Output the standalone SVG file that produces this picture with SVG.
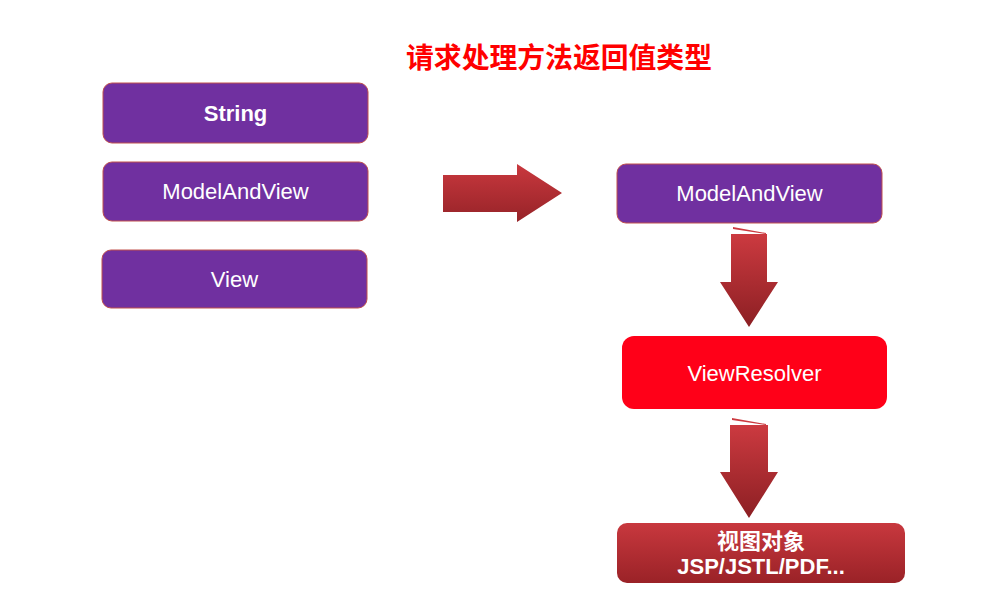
<svg xmlns="http://www.w3.org/2000/svg" width="1003" height="590" viewBox="0 0 1003 590">
  <defs>
    <linearGradient id="arrowV" x1="0" y1="0" x2="0" y2="1">
      <stop offset="0" stop-color="#cc3a40"/>
      <stop offset="1" stop-color="#8c1f23"/>
    </linearGradient>
    <linearGradient id="arrowH" x1="0" y1="0" x2="0" y2="1">
      <stop offset="0" stop-color="#c9383e"/>
      <stop offset="1" stop-color="#962328"/>
    </linearGradient>
    <linearGradient id="boxRed" x1="0" y1="0" x2="0" y2="1">
      <stop offset="0" stop-color="#c8383e"/>
      <stop offset="1" stop-color="#9a2227"/>
    </linearGradient>
    <style>
      .purple { fill: #7030a0; stroke: #c0504d; stroke-width: 1; }
      .lbl { font-family: "Liberation Sans", Arial, sans-serif; font-size: 22px; fill: #ffffff; text-anchor: middle; }
      .bold { font-weight: bold; }
      .cjk { font-family: "Liberation Sans", "Noto Sans CJK SC", sans-serif; }
    </style>
  </defs>
  <rect x="0" y="0" width="1003" height="590" fill="#ffffff"/>

  <text id="title" x="559" y="68" font-family="'Noto Sans CJK SC', sans-serif" font-size="28" font-weight="bold" fill="#ff0000" text-anchor="middle" textLength="306" lengthAdjust="spacingAndGlyphs">请求处理方法返回值类型</text>

  <g id="node-string">
    <rect class="purple" x="103" y="83" width="265" height="60" rx="9"/>
    <text class="lbl bold" x="235.5" y="121">String</text>
  </g>
  <g id="node-modelandview-left">
    <rect class="purple" x="103" y="162" width="265" height="59" rx="9"/>
    <text class="lbl" x="235.5" y="199">ModelAndView</text>
  </g>
  <g id="node-view">
    <rect class="purple" x="102" y="250" width="265" height="58" rx="9"/>
    <text class="lbl" x="234.5" y="287">View</text>
  </g>
  <g id="node-modelandview-right">
    <rect class="purple" x="617" y="164" width="265" height="59" rx="9"/>
    <text class="lbl" x="749.5" y="201">ModelAndView</text>
  </g>
  <g id="node-viewresolver">
    <rect x="622" y="336" width="265" height="73" rx="12" fill="#ff0018"/>
    <text class="lbl" x="754.5" y="381">ViewResolver</text>
  </g>
  <g id="node-viewobject">
    <rect x="617" y="523" width="288" height="60" rx="10" fill="url(#boxRed)"/>
    <text class="lbl bold cjk" x="761" y="549">视图对象</text>
    <text class="lbl bold" x="761" y="574">JSP/JSTL/PDF...</text>
  </g>

  <g id="connectors">
    <polygon points="443,175 517,175 517,164 562,193 517,222 517,212 443,212" fill="url(#arrowH)"/>
    <polygon points="731,234 767,234 767,282 778,282 749,327 720,282 731,282" fill="url(#arrowV)"/>
    <polygon points="733,227 766,233 766,234 733,229" fill="#cc3a40"/>
    <polygon points="730,425 768,425 768,472 778,472 749,518 720,472 730,472" fill="url(#arrowV)"/>
    <polygon points="732,418 766,424 766,425 732,420" fill="#cc3a40"/>
  </g>
</svg>
